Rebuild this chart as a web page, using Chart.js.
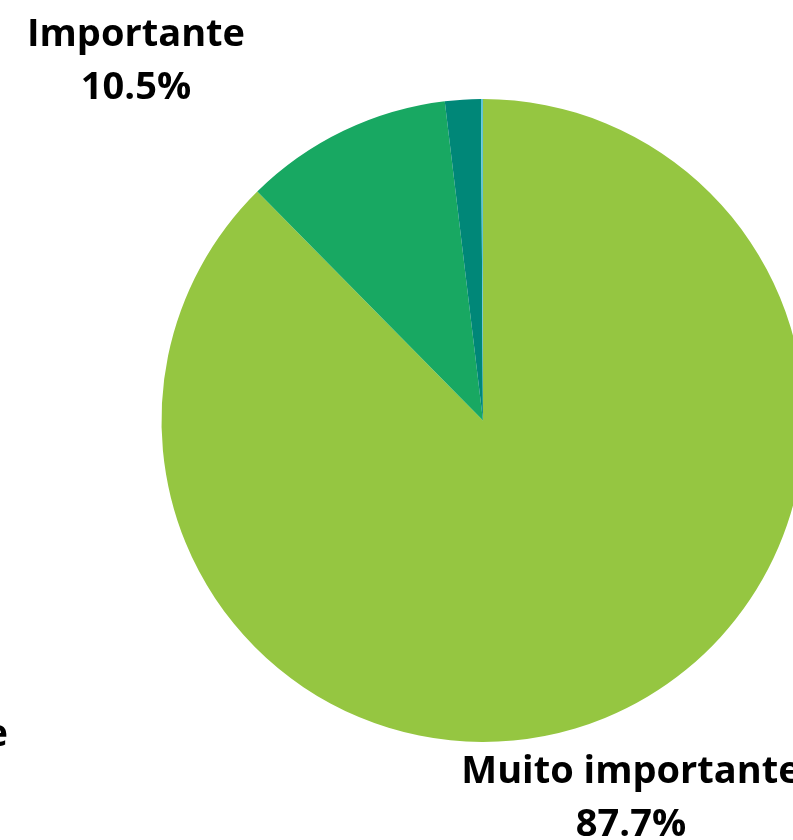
<!DOCTYPE html>
<html lang="pt">
<head>
    <meta charset="UTF-8">
    <title>Importância</title>
    <script src="https://cdn.jsdelivr.net/npm/chart.js@4/dist/chart.umd.min.js"></script>
    <style>
        body {
            margin: 0;
            background: #fff;
            overflow: hidden;
        }
        .wrap {
            width: 966px;
            height: 840px;
            position: relative;
        }
    </style>
</head>
<body>
    <div class="wrap"><canvas id="pie"></canvas></div>

    <script>
        const categories = ['Muito importante', 'Importante', 'Pouco importante', 'Nada importante'];
        const values = [87.7, 10.5, 1.8, 0.1];
        const valueLabels = ['87.7%', '10.5%', '1.8%', ''];
        const colors = ['#95c641', '#18a862', '#008778', '#5ec4d8'];

        // label anchors relative to pie centre: [dx, dy of first baseline, align]
        const anchors = [
            [148, 362, 'center'],
            [-347, -375, 'center'],
            [-475, 325, 'right'],
            null
        ];

        const labelPlugin = {
            id: 'sliceLabels',
            afterDraw(chart) {
                const ctx = chart.ctx;
                const arc = chart.getDatasetMeta(0).data[0];
                ctx.save();
                ctx.fillStyle = '#000';
                ctx.font = 'bold 38px "Open Sans", sans-serif';
                ctx.textBaseline = 'alphabetic';
                anchors.forEach((a, i) => {
                    if (!a) return;
                    const x = arc.x + a[0];
                    const y = arc.y + a[1];
                    let cx = x;
                    if (a[2] === 'right') {
                        cx = x - ctx.measureText(categories[i]).width / 2;
                    }
                    ctx.textAlign = 'center';
                    ctx.fillText(categories[i], cx, y);
                    ctx.fillText(valueLabels[i], cx, y + 53);
                });
                ctx.restore();
            }
        };

        new Chart(document.getElementById('pie').getContext('2d'), {
            type: 'pie',
            data: {
                labels: categories,
                datasets: [{
                    data: values,
                    backgroundColor: colors,
                    borderWidth: 0
                }]
            },
            options: {
                responsive: true,
                maintainAspectRatio: false,
                animation: false,
                layout: { padding: { top: 99, bottom: 98, left: 0, right: 0 } },
                plugins: {
                    legend: { display: false },
                    tooltip: { enabled: false }
                }
            },
            plugins: [labelPlugin]
        });
    </script>
</body>
</html>
